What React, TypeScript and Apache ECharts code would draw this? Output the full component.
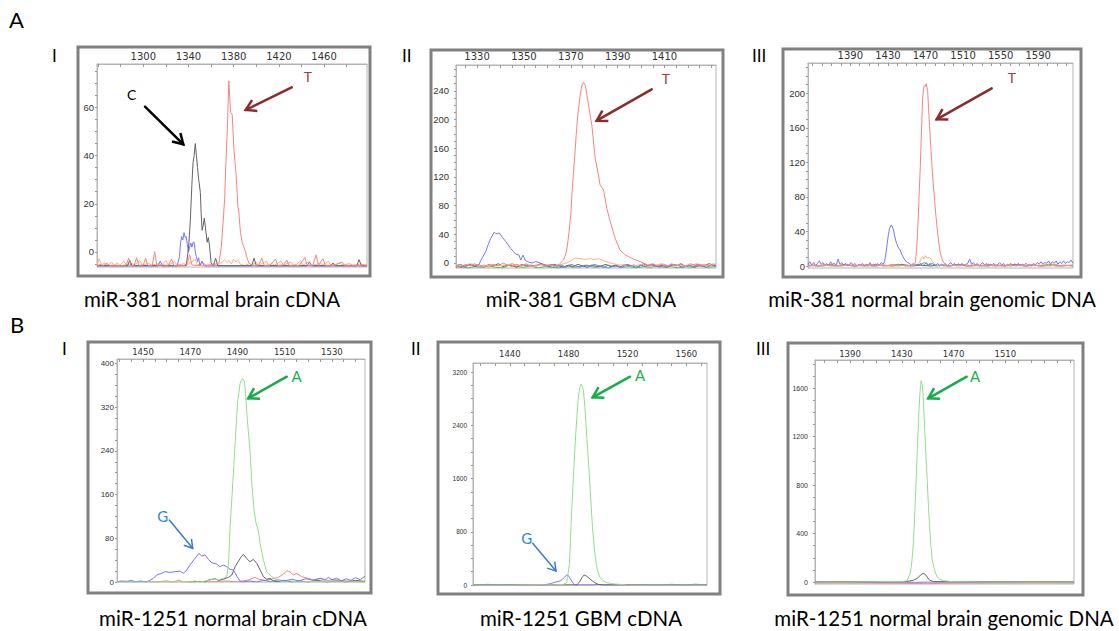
import React, { useEffect, useRef } from "react";
import * as echarts from "echarts";

// ---------- colours ----------
const RED = "#ff8080";
const ORANGE = "#ffb27a";
const BLACK = "#636363";
const BLUE = "#7575ff";
const GREEN = "#4cbf4c";
const LGREEN = "#8ee08e";

// ---------- tick labels ----------
const A1_XLABELS = [1300, 1340, 1380, 1420, 1460];
const A1_YLABELS = [0, 20, 40, 60];
const A2_XLABELS = [1330, 1350, 1370, 1390, 1410];
const A2_YLABELS = [0, 40, 80, 120, 160, 200, 240];
const A3_XLABELS = [1390, 1430, 1470, 1510, 1550, 1590];
const A3_YLABELS = [0, 40, 80, 120, 160, 200];
const B1_XLABELS = [1450, 1470, 1490, 1510, 1530];
const B1_YLABELS = [0, 80, 160, 240, 320, 400];
const B2_XLABELS = [1440, 1480, 1520, 1560];
const B2_YLABELS = [0, 800, 1600, 2400, 3200];
const B3_XLABELS = [1390, 1430, 1470, 1510];
const B3_YLABELS = [0, 400, 800, 1200, 1600];

// ---------- A-I : miR-381 normal brain cDNA ----------
const A1_ORANGE = [[1259,-5.5],[1261,-2.8],[1263,-5.4],[1266,-4.6],[1269,-5.5],[1272,-4.2],[1274,-5.6],[1277,-4.5],[1279,-5.5],[1283,-3.8],[1285,-5.6],[1290,-4.8],[1292,-5.5],[1297,-3.5],[1299,-5.6],[1305,-4.6],[1307,-5.5],[1314,-4.9],[1316,-5.6],[1320,-3.6],[1322,-5.5],[1328,-4.0],[1330,-5.6],[1336,-4.8],[1338,-5.5],[1346,-3.2],[1348,-5.6],[1353,-4.6],[1356,-5.5],[1362,-5.0],[1366,-5.6],[1370,-4.0],[1372,-3.2],[1374,-4.4],[1376,-3.6],[1378,-5.0],[1380,-3.0],[1382,-4.2],[1384,-3.4],[1386,-5.2],[1390,-5.6],[1394,-4.8],[1396,-5.5],[1400,-4.2],[1402,-5.6],[1409,-3.8],[1411,-5.5],[1414,-4.8],[1416,-5.6],[1422,-3.8],[1424,-5.5],[1431,-4.2],[1433,-5.6],[1436,-5.0],[1439,-3.6],[1441,-5.5],[1447,-4.0],[1449,-5.6],[1457,-4.8],[1459,-5.5],[1464,-3.8],[1466,-5.6],[1474,-4.6],[1476,-5.5],[1483,-4.8],[1485,-5.6],[1492,-5.0],[1498,-5.5]];
const A1_BLUE = [[1259,-5.8],[1313,-5.8],[1315,-3.8],[1317,-5.8],[1330,-5.8],[1332,-2],[1333,4],[1334,6.4],[1335,5],[1336,8],[1337,6],[1338,6.4],[1339,3],[1340,0],[1341,2],[1342,3.7],[1343,2],[1344,4],[1345,4],[1346,0],[1347,-2],[1348,-4],[1349,-2.4],[1350,-5.8],[1352,-3.8],[1354,-5.8],[1445,-5.8],[1447,-4.2],[1449,-5.8],[1498,-5.8]];
const A1_BLACK = [[1259,-5.7],[1286,-5.7],[1288,-3.4],[1290,-5.7],[1338,-5.7],[1340,1.5],[1341.5,12],[1343,28],[1344,37],[1345,40],[1346,45],[1347,40],[1348,35],[1349,30],[1350.5,24.6],[1351.2,16],[1352,9],[1353,11],[1354,14],[1355,10],[1356.5,4],[1357.5,6],[1358.5,3],[1360,-4.6],[1362,-5.7],[1364,-2.6],[1366,-5.7],[1396,-5.7],[1398,-2.6],[1400,-5.7],[1466,-5.7],[1468,-4.6],[1470,-5.7],[1489,-5.7],[1491,-3.2],[1493,-5.7],[1498,-5.7]];
const A1_RED = [[1259,-5.6],[1262,-5.2],[1264,-5.7],[1268,-4.8],[1270,-5.6],[1276,-5.5],[1280,-5.7],[1285,-5.4],[1287,-2.6],[1289,-5.6],[1292,-5.5],[1294,-2.4],[1296,-5.6],[1300,-5.4],[1302,-2.6],[1304,-5.6],[1308,-5.5],[1310,0.2],[1312,-5.6],[1318,-5.4],[1322,-5.6],[1325,-2.9],[1327,-5.6],[1332,-5.5],[1336,-5.6],[1339,-4.8],[1341,-1.2],[1343,-5.4],[1348,-5.6],[1352,-5.5],[1356,-5.6],[1360,-5.5],[1364,-5.0],[1367,-4.6],[1369,2],[1370,8],[1371,15],[1372,22],[1373,36],[1374.3,50],[1375.7,71],[1376.5,64],[1377.2,58],[1378.7,57],[1380,44],[1381,38],[1382,33],[1383,25],[1383.7,19],[1384.5,17],[1385,14],[1386,8],[1387.5,4],[1389,2],[1390.5,0],[1391.5,-2],[1393.5,-4.6],[1395,-5.3],[1398,-5.6],[1402,-5.4],[1405,-2.6],[1407,-5.6],[1412,-5.5],[1417,-3],[1419,-5.6],[1424,-5.4],[1427,-3.4],[1429,-5.6],[1434,-5.5],[1438,-5.6],[1443,-2.3],[1445,-5.5],[1450,-5.6],[1453,-1.2],[1455,-5.6],[1459,-2.8],[1461,-5.5],[1466,-5.6],[1470,-5.4],[1476,-4.2],[1478,-5.6],[1484,-5.5],[1490,-5.6],[1495,-5.4],[1498,-5.6]];

// ---------- A-II : miR-381 GBM cDNA ----------
const A2_GREEN = [[1321,-6],[1323,-5],[1326,-7],[1329,-5],[1332,-6],[1335,-4],[1338,-6],[1341,-7],[1343,-4],[1345,-1],[1347,-5],[1350,-6],[1353,-4],[1356,-7],[1359,-5],[1362,-6],[1365,-7],[1368,-4],[1371,-6],[1374,-5],[1377,-3],[1380,-6],[1383,-5],[1386,-7],[1389,-4],[1392,-6],[1395,-5],[1398,-7],[1401,-5],[1404,-6],[1407,-4],[1410,-6],[1413,-5],[1416,-7],[1419,-5],[1422,-6],[1425,-4],[1428,-6],[1432,-5]];
const A2_BLACK = [[1321,-3],[1323,-6],[1325,-4],[1327,-2],[1329,-5],[1331,-3],[1333,-6],[1335,-2],[1337,-4],[1339,-1],[1341,-5],[1343,-3],[1345,-4],[1347,-6],[1349,-2],[1351,-4],[1353,-3],[1355,-5],[1357,-1],[1359,-3],[1361,-5],[1363,-2],[1365,-4],[1367,-6],[1369,-3],[1371,-5],[1373,-2],[1375,-4],[1377,-6],[1379,-3],[1381,-5],[1383,-4],[1385,-2],[1387,-5],[1389,-3],[1391,-6],[1393,-2],[1395,-4],[1397,-3],[1399,-5],[1401,-1],[1403,-4],[1405,-2],[1407,-5],[1409,-3],[1411,-6],[1413,-2],[1415,-4],[1417,-1],[1419,-5],[1421,-3],[1423,-6],[1425,-2],[1427,-4],[1429,-1],[1431,-3],[1432,-4]];
const A2_ORANGE = [[1321,-2],[1324,-4],[1327,-1],[1330,-3],[1333,-5],[1336,-2],[1339,-4],[1342,-3],[1345,-1],[1348,-4],[1351,-2],[1354,-5],[1357,-3],[1360,-2],[1363,-4],[1366,-2],[1368,0],[1370,3],[1372,7],[1374,6],[1376,5],[1378,6],[1380,5],[1382,6],[1384,3],[1386,1],[1388,-1],[1391,-3],[1394,-2],[1397,-4],[1400,-2],[1403,-5],[1406,-3],[1409,-1],[1412,-4],[1415,-2],[1418,-5],[1421,-3],[1424,-1],[1427,-4],[1430,-2],[1432,-3]];
const A2_BLUE = [[1321,-4],[1323,-2],[1325,-5],[1327,-3],[1329,-4],[1330.8,-2],[1332,6],[1333.7,16],[1334.8,26],[1335.8,34],[1337.3,43],[1338,41],[1338.7,41],[1339.4,42],[1340.1,39],[1341,35],[1342.2,30],[1343.3,25],[1344.4,20],[1345.5,16],[1346.5,12.5],[1347.9,11],[1348.6,4],[1349.6,11],[1350.5,4],[1351.3,2],[1352.2,1],[1353.5,0],[1355,2],[1356,1],[1357.2,-0.5],[1358.5,-2],[1360,-4],[1362,-2],[1364,-5],[1366,-3],[1368,-6],[1370,-2],[1372,-4],[1374,-6],[1376,-3],[1378,-5],[1380,-2],[1382,-4],[1384,-6],[1386,-3],[1388,-5],[1390,-4],[1392,-6],[1394,-2],[1396,-4],[1398,-6],[1400,-3],[1402,-5],[1404,-2],[1406,-4],[1408,-6],[1410,-3],[1412,-5],[1414,-2],[1416,-4],[1418,-6],[1420,-3],[1422,-5],[1424,-2],[1426,-4],[1428,-6],[1430,-3],[1432,-4]];
const A2_RED = [[1321,-3],[1323,-5],[1325,-2],[1327,-4],[1329,-1],[1331,-5],[1333,-3],[1335,-6],[1337,-2],[1339,-4],[1341,0],[1343,-3],[1345,-5],[1347,-2],[1349,-4],[1351,-1],[1353,-5],[1355,-3],[1357,-2],[1359,-4],[1361,-3],[1363,-5],[1365,-2],[1366.9,4],[1368,14],[1368.6,25],[1369.3,45],[1370,67],[1370.5,95],[1371.1,123],[1371.7,150],[1372.3,178],[1373,206],[1374,234],[1374.7,247],[1375.4,252],[1376.2,248],[1376.9,234],[1378,212],[1379,192],[1380.4,146],[1381.5,128],[1382.5,109],[1384,102],[1385.4,76],[1386.8,58],[1388,45],[1389,34],[1391,18],[1393,12],[1394.6,9],[1397,5],[1399.6,2],[1401,0],[1403,-3],[1405,-1],[1407,-4],[1409,-2],[1411,-5],[1413,-1],[1415,-4],[1417,-2],[1419,-5],[1421,-1],[1423,-3],[1425,-5],[1427,-2],[1429,-4],[1431,-1],[1432,-3]];

// ---------- A-III : miR-381 normal brain genomic DNA ----------
const A3_BLACK = [[1345,1],[1355,0],[1365,1],[1375,0],[1385,2],[1395,0],[1405,1],[1415,0],[1425,1],[1435,0],[1445,2],[1455,0],[1465,1],[1475,0],[1485,1],[1495,0],[1505,2],[1515,0],[1525,1],[1535,0],[1545,1],[1555,0],[1565,2],[1575,0],[1585,1],[1595,0],[1605,1],[1615,0],[1627,1]];
const A3_GREEN = [[1345,0],[1353,1],[1361,0],[1369,2],[1377,0],[1385,1],[1393,0],[1401,1],[1409,0],[1417,2],[1425,0],[1433,1],[1441,2],[1449,0],[1457,1],[1465,2],[1469,4],[1473,1],[1477,3],[1481,0],[1489,1],[1497,0],[1505,2],[1513,0],[1521,1],[1529,0],[1537,2],[1545,0],[1553,1],[1561,0],[1569,2],[1577,0],[1585,1],[1593,0],[1601,2],[1609,0],[1617,1],[1627,0]];
const A3_ORANGE = [[1345,0],[1360,1],[1375,0],[1390,1],[1405,0],[1420,1],[1435,0],[1450,1],[1460,1],[1463,3],[1465.6,9],[1467,11],[1468.5,8],[1470,12],[1472,9],[1474,10],[1476,8],[1478,4],[1481,1],[1490,0],[1505,1],[1520,0],[1535,1],[1550,0],[1565,1],[1580,0],[1595,1],[1610,0],[1627,1]];
const A3_BLUE = [[1345,2],[1347,5],[1349,1],[1351,4],[1353,0],[1355,3],[1357,6],[1359,2],[1361,4],[1363,1],[1365,3],[1367,0],[1369,5],[1371,2],[1373,3],[1375,1],[1377,8],[1379,2],[1381,4],[1383,1],[1385,3],[1387,0],[1389,2],[1391,4],[1393,1],[1395,3],[1397,0],[1399,2],[1401,1],[1403,3],[1405,0],[1407,2],[1409,1],[1411,4],[1413,0],[1415,2],[1417,1],[1419,3],[1421,1],[1423,4],[1425,2],[1426.4,5],[1428,15],[1429.3,26],[1430.5,36],[1431.8,43.5],[1433.5,47.4],[1434.5,46],[1436,41.6],[1437,36],[1438.2,30],[1439.4,26],[1440.7,22.4],[1442,20],[1443.1,18.5],[1444.5,14],[1446,10.8],[1447.5,8],[1449.5,5],[1451,4],[1453,3],[1455,1],[1457,3],[1459,0],[1461,2],[1463,1],[1465,3],[1467,0],[1469,2],[1471,4],[1473,1],[1475,3],[1477,0],[1479,2],[1481,1],[1483,3],[1485,0],[1487,2],[1489,1],[1491,3],[1493,0],[1495,2],[1497,4],[1499,1],[1501,3],[1503,0],[1505,2],[1507,1],[1509,3],[1511,0],[1513,2],[1515,3],[1517,8],[1519,2],[1521,4],[1523,1],[1525,3],[1527,0],[1529,2],[1531,4],[1533,1],[1535,3],[1537,0],[1539,2],[1541,1],[1543,3],[1545,0],[1547,2],[1549,4],[1551,1],[1553,3],[1555,0],[1557,2],[1559,1],[1561,3],[1563,0],[1565,2],[1567,1],[1569,3],[1571,0],[1573,2],[1575,1],[1577,3],[1579,1],[1581,2],[1583,0],[1585,3],[1587,1],[1589,4],[1591,2],[1593,5],[1595,2],[1597,4],[1599,3],[1601,6],[1603,2],[1605,5],[1607,3],[1609,6],[1611,2],[1613,5],[1615,3],[1617,6],[1619,3],[1621,5],[1623,4],[1625,7],[1627,3]];
const A3_RED = [[1345,0],[1351,1],[1357,0],[1363,2],[1369,0],[1375,1],[1381,0],[1387,2],[1393,0],[1399,1],[1405,0],[1411,2],[1417,0],[1423,1],[1429,0],[1435,2],[1441,0],[1447,1],[1453,0],[1457,1],[1459.1,3],[1460.5,18],[1461.6,38],[1463,75],[1464.5,115],[1465.7,155],[1466.9,192],[1467.8,204],[1468.7,209],[1469.8,208],[1470.9,211],[1471.6,207],[1472.3,203],[1473.3,182],[1474.4,161],[1475.7,138],[1477,115],[1478.3,95],[1479.7,76],[1481.3,56],[1483,38],[1484.4,25],[1485.8,15],[1488,7],[1490,3],[1494,0],[1500,1],[1506,0],[1512,2],[1518,0],[1524,1],[1530,0],[1536,2],[1542,0],[1548,1],[1554,0],[1560,2],[1566,0],[1572,1],[1578,0],[1584,2],[1590,0],[1596,1],[1602,0],[1608,2],[1614,0],[1620,1],[1627,0]];

// ---------- B-I : miR-1251 normal brain cDNA ----------
const B1_RED = [[1439,0],[1443,2],[1446,0],[1450,1],[1455,0],[1460,2],[1463,0],[1465,3.6],[1467,0],[1472,1],[1478,0],[1485,2],[1490,0],[1494.6,3.7],[1497.5,8.5],[1499,5],[1502,3],[1505,6],[1507.3,8.5],[1509.5,14.6],[1510.9,20.7],[1512.3,18.3],[1513.7,12.8],[1515.1,15.8],[1517.2,9.7],[1520,6.7],[1522,4],[1525.7,6.7],[1528,3],[1532,4],[1536,2],[1540,1],[1544,0]];
const B1_BLACK = [[1470,0],[1474,1],[1476.3,0.6],[1478,4],[1480.5,6],[1482,3],[1484,5],[1486.2,8.5],[1487.6,12.8],[1489,28],[1490.7,40],[1491.6,46],[1492.5,50.5],[1493.9,43],[1495.3,37],[1496.7,41.4],[1498.2,34],[1499.6,21.9],[1501,9.7],[1502.4,4.9],[1503.8,6.7],[1505.2,1.8],[1507.3,0.6],[1510,3],[1513,0],[1516,2],[1520,0],[1524,3],[1528,0],[1532,2],[1536,0],[1540,3],[1544,1]];
const B1_BLUE = [[1439,0],[1441,2],[1443,0],[1445,3],[1447,0],[1449,2],[1451,0],[1452.3,1.8],[1454.4,6.7],[1455.8,12.8],[1457.9,15.8],[1459.3,18.9],[1461.4,17.6],[1463.6,18.9],[1465.7,20],[1467.1,15.8],[1468.5,21.9],[1469.9,31],[1472,43.2],[1473.7,52.3],[1474.9,47.4],[1476.3,49.3],[1477.7,41.4],[1479.1,35.3],[1481.2,32.9],[1482.6,28],[1484,31],[1485.5,28],[1486.9,23.1],[1488.3,21.9],[1489.7,11],[1491.1,1.8],[1492.5,0],[1495,2],[1498,0],[1501,3],[1504,1],[1507,4],[1510,2],[1513,5],[1516,2],[1519,6],[1522,3],[1525,7],[1527,3],[1528.5,8.5],[1530,4],[1532,7],[1534,2],[1536,6],[1538,3],[1540,8],[1542,4],[1544,11]];
const B1_GREEN = [[1439,0],[1470,0],[1472,2],[1474,0],[1478,3],[1480,6],[1482,4],[1484,7],[1485.5,10],[1486.2,33.5],[1486.9,101],[1488,180],[1489,253],[1490,326],[1491.1,363],[1491.7,370],[1492.3,372],[1492.8,368],[1493.2,357],[1494.2,296],[1495.4,235],[1496.1,180],[1497,131.5],[1497.9,107],[1498.4,101],[1499,90],[1499.6,70.6],[1501,40],[1502.4,18.9],[1504.6,9.7],[1506.7,3.7],[1509.5,0],[1512,2],[1516,0],[1520,1],[1544,0]];

// ---------- B-II : miR-1251 GBM cDNA ----------
const B2_RED = [[1415,-5],[1440,0],[1470,-5],[1490,0],[1496,-10],[1500,-25],[1503,-15],[1506,0],[1560,-5],[1574,0]];
const B2_BLUE = [[1415,0],[1425,10],[1432,0],[1440,8],[1448,0],[1456,5],[1462,0],[1465.1,9],[1467.5,20],[1469.6,35],[1472,48],[1474.2,60],[1475.8,85],[1476.9,111],[1478.7,151],[1479.5,148],[1480,136],[1481,100],[1482.1,60],[1483.2,25],[1484.4,0],[1490,0],[1500,5],[1510,0],[1530,8],[1540,0],[1550,10],[1560,0],[1566,12],[1574,0]];
const B2_BLACK = [[1415,0],[1485.5,0],[1486.5,25],[1487.8,60],[1489,110],[1490.5,151],[1492,135],[1493.4,111],[1495,80],[1496.8,50],[1498.5,25],[1500.2,9],[1503.6,0],[1574,0]];
const B2_GREEN = [[1415,0],[1440,0],[1460,5],[1470,0],[1476,8],[1478.7,30],[1479.2,111],[1480.5,312],[1481.3,700],[1482.1,1117],[1483.2,1620],[1484.4,2123],[1485.5,2500],[1486.6,2826],[1487.5,2960],[1488.5,3018],[1489.2,2990],[1490,2927],[1491,2680],[1491.9,2374],[1493,2000],[1494.1,1620],[1495.2,1230],[1496.2,865],[1497.4,560],[1498.7,312],[1500,190],[1501.4,111],[1503.5,60],[1506,35],[1510,18],[1515,9],[1520,0],[1574,0]];

// ---------- B-III : miR-1251 normal brain genomic DNA ----------
const B3_RED = [[1363,-8],[1400,-8],[1430,-10],[1440,-12],[1450,-14],[1460,-10],[1500,-8],[1563,-8]];
const B3_BLUE = [[1363,-2],[1380,0],[1400,-3],[1420,0],[1440,-2],[1460,0],[1500,-2],[1530,0],[1563,-2]];
const B3_BLACK = [[1363,2],[1430,2],[1436,8],[1439,15],[1441,25],[1443,40],[1444.5,58],[1446.4,71],[1447.5,66],[1448.9,55],[1450,35],[1451.5,16],[1454.6,3],[1563,2]];
const B3_GREEN = [[1363,0],[1400,0],[1420,5],[1430,3],[1434,11],[1436.5,71.5],[1437.6,150],[1438.6,264],[1439.5,440],[1440.4,649],[1441.3,900],[1442.2,1144],[1443,1340],[1443.7,1501],[1444.4,1610],[1445,1660],[1445.7,1630],[1446.4,1556],[1447,1430],[1447.6,1281],[1448.5,1080],[1449.5,869],[1450.5,650],[1451.5,456],[1452.5,300],[1453.6,181],[1455.3,100],[1457.2,44],[1459.5,22],[1462.3,11],[1470,3],[1500,0],[1563,0]];

const CAPTIONS = [
  "miR-381 normal brain cDNA",
  "miR-381 GBM cDNA",
  "miR-381 normal brain genomic DNA",
  "miR-1251 normal brain cDNA",
  "miR-1251 GBM cDNA",
  "miR-1251 normal brain genomic DNA",
];

const SANS = "Lato, 'Open Sans', sans-serif";
const AXF = "'DejaVu Sans', sans-serif";
const AYF = "'Liberation Sans', Arial, sans-serif";

function ticks(min: number, max: number, step: number) {
  const out: number[] = [];
  for (let v = Math.ceil(min / step) * step; v <= max + 1e-9; v += step) out.push(v);
  return out;
}

const PANELS = [
  { grid: { left: 97, top: 64, width: 270, height: 203 }, x: [1259, 1498], y: [-6.25, 78], xl: A1_XLABELS, xs: 20, yl: A1_YLABELS, ys: 5, xf: 10, yf: 9.5, xm: 3, ym: 3,
    frame: [78, 47, 292, 229], cap: [212, 288.5],
    series: [[A1_ORANGE, ORANGE], [A1_BLUE, BLUE], [A1_BLACK, BLACK], [A1_RED, RED]] },
  { grid: { left: 456, top: 65, width: 260, height: 203 }, x: [1321, 1432], y: [-7, 276], xl: A2_XLABELS, xs: 5, yl: A2_YLABELS, ys: 10, xf: 10, yf: 9.5, xm: 4, ym: 7,
    frame: [431, 50, 292, 227], cap: [581, 288.5],
    series: [[A2_GREEN, GREEN], [A2_BLACK, BLACK], [A2_ORANGE, ORANGE], [A2_BLUE, BLUE], [A2_RED, RED]] },
  { grid: { left: 808, top: 63, width: 265, height: 205 }, x: [1345, 1627], y: [-2.3, 235], xl: A3_XLABELS, xs: 10, yl: A3_YLABELS, ys: 10, xf: 10, yf: 9.5, xm: 3, ym: 3,
    frame: [783, 49, 298, 228], cap: [932, 288.5],
    series: [[A3_BLACK, BLACK], [A3_GREEN, GREEN], [A3_ORANGE, ORANGE], [A3_BLUE, BLUE], [A3_RED, RED]] },
  { grid: { left: 117, top: 359, width: 248, height: 223 }, x: [1439, 1544], y: [0, 408], xl: B1_XLABELS, xs: 5, yl: B1_YLABELS, ys: 20, xf: 8.5, yf: 8, xm: 3, ym: 3,
    frame: [88, 342, 283, 251], cap: [233, 607],
    series: [[B1_RED, RED], [B1_BLACK, BLACK], [B1_BLUE, BLUE], [B1_GREEN, LGREEN]] },
  { grid: { left: 473, top: 363, width: 234, height: 222 }, x: [1415, 1574], y: [0, 3336], xl: B2_XLABELS, xs: 10, yl: B2_YLABELS, ys: 200, xf: 8.5, yf: 6.5, xm: 5, ym: 6,
    frame: [438, 342, 282, 252], cap: [581, 607],
    series: [[B2_RED, RED], [B2_BLUE, BLUE], [B2_BLACK, BLACK], [B2_GREEN, LGREEN]] },
  { grid: { left: 815, top: 360, width: 259, height: 224 }, x: [1363, 1563], y: [-16, 1831], xl: B3_XLABELS, xs: 10, yl: B3_YLABELS, ys: 100, xf: 8.5, yf: 7, xm: 2, ym: 7,
    frame: [788, 343, 295, 252], cap: [944, 607],
    series: [[B3_RED, RED], [B3_BLUE, BLUE], [B3_BLACK, BLACK], [B3_GREEN, LGREEN]] },
];

function arrow(x1: number, y1: number, x2: number, y2: number, color: string, w: number, head = 10, half = 6) {
  const dx = x2 - x1, dy = y2 - y1;
  const L = Math.hypot(dx, dy);
  const ux = dx / L, uy = dy / L;
  const bx = x2 - ux * head, by = y2 - uy * head;
  const p1 = [bx - uy * half, by + ux * half];
  const p2 = [bx + uy * half, by - ux * half];
  return [
    { type: "line", z: 100, shape: { x1, y1, x2, y2 }, style: { stroke: color, lineWidth: w, lineCap: "round" } },
    { type: "polyline", z: 100, shape: { points: [p1, [x2, y2], p2] }, style: { stroke: color, lineWidth: w, fill: null, lineJoin: "miter" } },
  ];
}

function label(text: string, x: number, y: number, size: number, color: string, align = "left", vAlign = "top") {
  return { type: "text", z: 100, x, y, style: { text, fontSize: size, fontFamily: SANS, fill: color, align, verticalAlign: vAlign } };
}

const fmt = (v: number) => String(v);

function buildOption() {
  const grid: any[] = [], xAxis: any[] = [], yAxis: any[] = [], series: any[] = [];
  const graphic: any[] = [];
  PANELS.forEach((p, i) => {
    grid.push({ ...p.grid, show: true, backgroundColor: "#fff", borderColor: "#b5b5b5", borderWidth: 1 });
    xAxis.push({
      gridIndex: i, type: "value", position: "top", min: p.x[0], max: p.x[1],
      axisLine: { show: true, onZero: false, lineStyle: { color: "#b5b5b5" } },
      axisTick: { show: true, inside: true, length: 3, customValues: ticks(p.x[0], p.x[1], p.xs), lineStyle: { color: "#999" } },
      axisLabel: { customValues: p.xl, formatter: fmt, fontSize: p.xf, fontFamily: AXF, color: "#333", margin: p.xm },
      splitLine: { show: false },
    });
    yAxis.push({
      gridIndex: i, type: "value", position: "left", min: p.y[0], max: p.y[1],
      axisLine: { show: true, onZero: false, lineStyle: { color: "#b5b5b5" } },
      axisTick: { show: true, length: 2, customValues: ticks(p.y[0], p.y[1], p.ys), lineStyle: { color: "#999" } },
      axisLabel: { customValues: p.yl, formatter: fmt, fontSize: p.yf, fontFamily: AYF, color: "#333", margin: p.ym },
      splitLine: { show: false },
    });
    p.series.forEach(([data, color]: any) => {
      series.push({
        type: "line", xAxisIndex: i, yAxisIndex: i, data, showSymbol: false, symbol: "none", silent: true,
        lineStyle: { color, width: 1 }, itemStyle: { color }, clip: true,
      });
    });
    const [fx, fy, fw, fh] = p.frame;
    graphic.push({ type: "rect", z: 90, shape: { x: fx, y: fy, width: fw, height: fh }, style: { fill: null, stroke: "#808080", lineWidth: 3 } });
    graphic.push(label(CAPTIONS[i], p.cap[0], p.cap[1], 20.5, "#000", "center"));
  });

  // section letters and panel numerals
  graphic.push(label("A", 9, 8, 22, "#000"));
  graphic.push(label("B", 10, 313, 22, "#000"));
  graphic.push(label("I", 52, 46.5, 17, "#000"));
  graphic.push(label("II", 402, 46.5, 17, "#000"));
  graphic.push(label("III", 752, 46.5, 17, "#000"));
  graphic.push(label("I", 62, 339.5, 17, "#000"));
  graphic.push(label("II", 411, 339.5, 17, "#000"));
  graphic.push(label("III", 756, 339.5, 17, "#000"));

  // annotations
  const TC = "#8b2c2c";
  const AC = "#1aab4b";
  const GC = "#3b7cc4";
  graphic.push(label("C", 131.7, 94.3, 14, "#000", "center", "middle"));
  graphic.push(...arrow(145, 106.7, 183.3, 144.3, "#000", 2.5));
  graphic.push(label("T", 308, 76, 14, "#a63a3a", "center", "middle"));
  graphic.push(...arrow(291.7, 87.3, 245.7, 110, TC, 2.5));
  graphic.push(label("T", 666, 78, 14, "#a63a3a", "center", "middle"));
  graphic.push(...arrow(651.7, 89.3, 596.7, 120.7, TC, 2.5));
  graphic.push(label("T", 1012, 77, 14, "#a63a3a", "center", "middle"));
  graphic.push(...arrow(991.7, 88.3, 936.7, 119.3, TC, 2.5));
  graphic.push(label("A", 296.7, 375.7, 15, "#22b14c", "center", "middle"));
  graphic.push(...arrow(286.7, 376.7, 248.3, 398.3, AC, 2.5));
  graphic.push(label("G", 162.7, 516, 15, "#2f86d6", "center", "middle"));
  graphic.push(...arrow(169.3, 520, 192.7, 548.3, GC, 1.5, 8, 5));
  graphic.push(label("A", 640, 375, 15, "#22b14c", "center", "middle"));
  graphic.push(...arrow(630, 376.7, 592.7, 397.3, AC, 2.5));
  graphic.push(label("G", 526.7, 537.7, 15, "#2f86d6", "center", "middle"));
  graphic.push(...arrow(532.7, 543.3, 556, 571, GC, 1.5, 8, 5));
  graphic.push(label("A", 975, 376, 15, "#22b14c", "center", "middle"));
  graphic.push(...arrow(966.7, 376.7, 928.3, 398.3, AC, 2.5));

  return { animation: false, backgroundColor: "#fff", grid, xAxis, yAxis, series, graphic };
}

export default function App() {
  const ref = useRef<HTMLDivElement>(null);
  useEffect(() => {
    if (!ref.current) return;
    const chart = echarts.init(ref.current, null, { renderer: "svg" });
    chart.setOption(buildOption() as any);
    return () => chart.dispose();
  }, []);
  return <div ref={ref} style={{ position: "fixed", left: 0, top: 0, width: 1119, height: 631, background: "#fff" }} />;
}
